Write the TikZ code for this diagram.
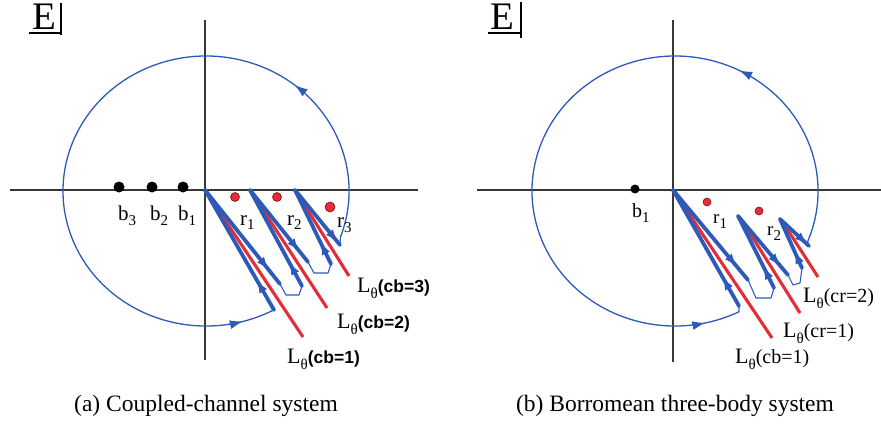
\documentclass[tikz,border=0pt]{standalone}
\usepackage{fontspec}
\setmainfont{Liberation Serif}
\newfontfamily\arialfont{Liberation Sans}
\usetikzlibrary{decorations.markings,arrows.meta}
\definecolor{cblue}{RGB}{45,90,185}
\definecolor{cred}{RGB}{228,45,55}
\definecolor{cdkred}{RGB}{120,20,20}
\definecolor{caxis}{RGB}{55,55,55}
\newcommand{\Lcb}[1]{{\fontsize{22}{22}\selectfont L}\raisebox{-6pt}{\fontsize{15}{15}\selectfont θ}{\arialfont\bfseries\fontsize{17.5}{17.5}\selectfont(#1)}}
\newcommand{\Lcr}[1]{{\fontsize{22}{22}\selectfont L}\raisebox{-6pt}{\fontsize{15}{15}\selectfont θ}{\fontsize{20}{20}\selectfont(#1)}}
\newcommand{\sublbl}[3]{{\fontsize{#3}{#3}\selectfont #1}\raisebox{-5pt}{\fontsize{15}{15}\selectfont #2}}
\tikzset{
  axisline/.style={caxis,line width=1.1pt},
  bigloop/.style={cblue,line width=1.3pt},
  thinblue/.style={cblue,line width=1.1pt,line join=round},
  cutline/.style={cred,line width=3.1pt},
  bluepath/.style={cblue,line width=3.8pt,line cap=round},
  arrowat/.style={postaction={decorate},decoration={markings,mark=at position #1 with {\arrow{Latex[length=13pt,width=9pt]}}}},
  loopmarks/.style 2 args={postaction={decorate},decoration={markings,
      mark=at position #1 with {\arrow{Latex[length=13pt,width=9pt]}},
      mark=at position #2 with {\arrow{Latex[length=13pt,width=9pt]}}}},
  lab/.style={inner sep=0pt,anchor=base west},
  reddot/.style={fill=cred,draw=cdkred,line width=0.6pt},
  elabel/.style={inner sep=0pt,anchor=base west,font=\fontsize{39}{39}\selectfont},
  caption/.style={inner sep=0pt,anchor=base,font=\fontsize{23.5}{24}\selectfont}
}
\begin{document}
\begin{tikzpicture}[x=1pt,y=-1pt]
\useasboundingbox (0,0) rectangle (881,425);

%================ LEFT PANEL ================
\node[elabel] (E1) at (32,30) {E};
\draw[line width=1.3pt] (29,33) -- (61,33);
\draw[line width=1.3pt] (61,3) -- (61,35);

\draw[axisline] (10,190) -- (418,190);
\draw[axisline] (205,20) -- (205,360);

% cut geometry
\coordinate (a1) at (205,190); \coordinate (a1l) at (274,310); \coordinate (a1r) at (280,284); \coordinate (a1e) at (303,337);
\coordinate (a2) at (250,190); \coordinate (a2l) at (302,286); \coordinate (a2r) at (308,262); \coordinate (a2e) at (327,308);
\coordinate (a3) at (295,190); \coordinate (a3l) at (331,264); \coordinate (a3r) at (340,245); \coordinate (a3e) at (349,276);
\coordinate (c1s) at (340.4,237.2);

% big loop
\draw[bigloop,loopmarks={0.22}{0.953}] (c1s) arc[start angle=20,end angle=-299,x radius=143,y radius=135] -- (a1l);
\draw[thinblue] (a3r) -- (c1s);
% connectors
\draw[thinblue] (a1r) -- (286,295) -- (299,295) -- (a2l);
\draw[thinblue] (a2r) -- (314,273) -- (328,273) -- (a3l);
% cuts
\draw[cutline] (a1) -- (a1e);
\draw[cutline] (a2) -- (a2e);
\draw[cutline] (a3) -- (a3e);
% hairpins
\draw[bluepath,arrowat=0.25] (a1l) -- (a1);
\draw[bluepath,arrowat=0.85] (a1) -- (a1r);
\draw[bluepath,arrowat=0.25] (a2l) -- (a2);
\draw[bluepath,arrowat=0.85] (a2) -- (a2r);
\draw[bluepath,arrowat=0.3] (a3l) -- (a3);
\draw[bluepath,arrowat=0.95] (a3) -- (a3r);

% bound states
\fill (119,187) circle[radius=5.5];
\fill (152,187) circle[radius=5.5];
\fill (183,187) circle[radius=5.5];
\node[lab] (b3) at (118,220) {\sublbl{b}{3}{21}};
\node[lab] (b2) at (150,220) {\sublbl{b}{2}{21}};
\node[lab] (b1) at (178,220) {\sublbl{b}{1}{21}};
% resonances
\filldraw[reddot] (235,197) circle[radius=4.5];
\filldraw[reddot] (277,197) circle[radius=4.5];
\filldraw[reddot] (330,207) circle[radius=5];
\node[lab] (r1) at (240,225) {\sublbl{r}{1}{21}};
\node[lab] (r2) at (287,225) {\sublbl{r}{2}{21}};
\node[lab] (r3) at (337,227) {\sublbl{r}{3}{21}};

\node[lab] (l3) at (357,292) {\Lcb{cb=3}};
\node[lab] (l2) at (337,328) {\Lcb{cb=2}};
\node[lab] (l1) at (287,363) {\Lcb{cb=1}};

\node[caption] (capa) at (206,411) {(a) Coupled-channel system};

%================ RIGHT PANEL ================
\node[elabel] (E2) at (490,30) {E};
\draw[line width=1.3pt] (488,33) -- (521,33);
\draw[line width=1.3pt] (521,2) -- (521,38);

\draw[axisline] (477,190) -- (881,190);
\draw[axisline] (673,20) -- (673,362);

\coordinate (d1) at (673,190); \coordinate (d1l) at (739,306); \coordinate (d1r) at (748,280); \coordinate (d1e) at (772,338);
\coordinate (d2) at (738,216); \coordinate (d2l) at (774,288); \coordinate (d2r) at (788,275); \coordinate (d2s) at (741,219); \coordinate (d2e) at (800,313);
\coordinate (d3) at (780,219); \coordinate (d3l) at (802,268); \coordinate (d3r) at (809,246); \coordinate (d3s) at (782,221); \coordinate (d3e) at (818,277);
\coordinate (c2s) at (807.6,241.6);

\draw[bigloop,loopmarks={0.262}{0.947}] (c2s) arc[start angle=22,end angle=-296.6,x radius=143,y radius=135] -- (d1l);
\draw[thinblue] (d3r) -- (c2s);
\draw[thinblue] (d1r) -- (756,298) -- (771,298) -- (d2l);
\draw[thinblue] (d2r) -- (793,285) -- (800,283) -- (d3l);

\draw[cutline] (d1) -- (d1e);
\draw[cutline] (d2s) -- (d2e);
\draw[cutline] (d3s) -- (d3e);
\draw[bluepath,arrowat=0.25] (d1l) -- (d1);
\draw[bluepath,arrowat=0.85] (d1) -- (d1r);
\draw[bluepath,arrowat=0.3] (d2l) -- (d2);
\draw[bluepath,arrowat=0.85] (d2) -- (d2r);
\draw[bluepath,arrowat=0.35] (d3l) -- (d3);
\draw[bluepath,arrowat=0.95] (d3) -- (d3r);

\fill (635,189) circle[radius=4.5];
\node[lab] (b1r) at (632,217) {\sublbl{b}{1}{20}};
\filldraw[reddot] (707,202) circle[radius=4];
\filldraw[reddot] (759,211) circle[radius=4];
\node[lab] (r1r) at (713,223) {\sublbl{r}{1}{19}};
\node[lab] (r2r) at (767,235) {\sublbl{r}{2}{19}};

\node[lab] (m2) at (803,302) {\Lcr{cr=2}};
\node[lab] (m1) at (783,337) {\Lcr{cr=1}};
\node[lab] (m0) at (735,363) {\Lcr{cb=1}};

\node[caption] (capb) at (675,411) {(b) Borromean three-body system};
\end{tikzpicture}
\end{document}
